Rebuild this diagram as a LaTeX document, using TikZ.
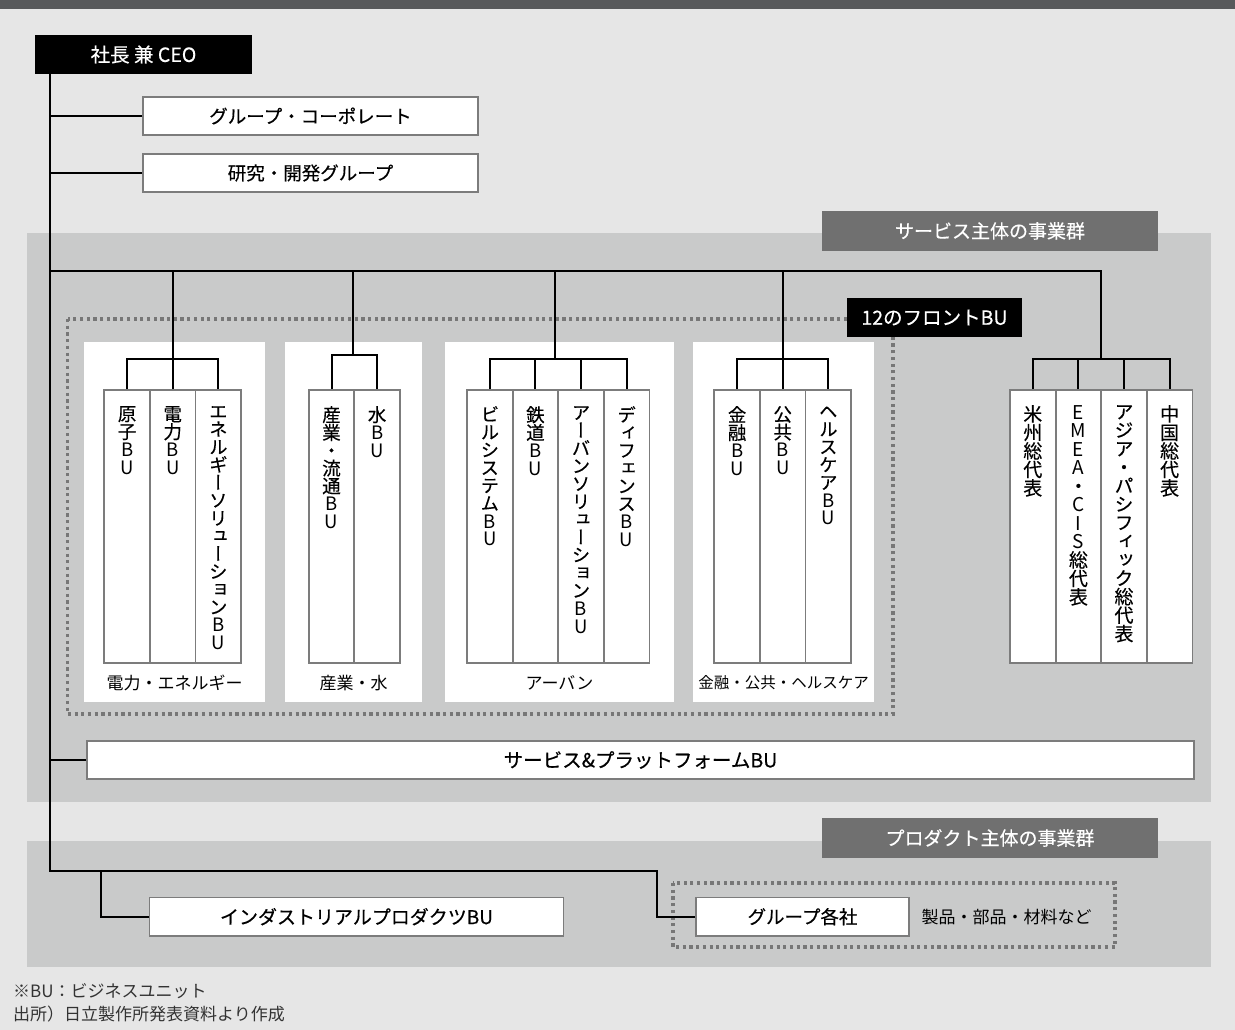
\documentclass[tikz,border=0pt]{standalone}
\usepackage{fontspec}
\setmainfont{Noto Sans CJK JP}
\newfontfamily\jpm[FakeBold=0.4]{Noto Sans CJK JP}
\newfontfamily\vjp[RawFeature={+vert},FakeBold=0.3]{Noto Sans CJK JP}
\newcommand\lb[1]{{\rmfamily #1}}
\definecolor{topbar}{HTML}{58595B}
\definecolor{bglight}{HTML}{E6E6E6}
\definecolor{bgmid}{HTML}{C9CACA}
\definecolor{bdr}{HTML}{7C7C7C}
\definecolor{lab}{HTML}{707070}
\definecolor{dotc}{HTML}{777777}
\definecolor{note}{HTML}{333333}
\lineskiplimit=-100pt
\tikzset{
  conn/.style={draw=black, line width=2pt, line join=miter},
  wbox/.style={draw=bdr, fill=white, line width=1.8pt, inner sep=0pt, minimum height=38.5pt, font=\jpm\fontsize{18.5}{20}\selectfont},
  blkbox/.style={fill=black, text=white, inner sep=0pt, minimum height=39pt, font=\jpm\fontsize{19.5}{20}\selectfont},
  tagbox/.style={fill=lab, text=white, inner sep=0pt, minimum width=336pt, minimum height=40pt, font=\jpm\fontsize{19}{20}\selectfont},
  colbox/.style={draw=bdr, fill=white, line width=1.8pt, minimum width=45.6pt, minimum height=273pt, inner sep=0pt},
  vtxt/.style={anchor=north, inner sep=0pt, align=center, font=\vjp\fontsize{18.5}{17.8}\selectfont},
  vtxtr/.style={anchor=north, inner sep=0pt, align=center, font=\vjp\fontsize{19}{18.5}\selectfont},
  plabel/.style={inner sep=0pt, font=\fontsize{17}{18}\selectfont},
  dots/.style={draw=dotc, line width=3.2pt, dash pattern=on 3.2pt off 3.5pt},
  notetxt/.style={anchor=west, inner sep=0pt, text=note, font=\fontsize{17}{18}\selectfont},
}
\begin{document}
\begin{tikzpicture}[x=1pt,y=-1pt]
\useasboundingbox (0,0) rectangle (1235,1030);
% backgrounds
\fill[bglight] (0,0) rectangle (1235,1030);
\fill[topbar] (0,0) rectangle (1235,9);
\fill[bgmid] (27,233) rectangle (1211,802);
\fill[bgmid] (27,841) rectangle (1211,967);
% panels
\fill[white] (84,342) rectangle (265,702);
\fill[white] (285,342) rectangle (422,702);
\fill[white] (445,342) rectangle (674,702);
\fill[white] (693,342) rectangle (874,702);
% dotted frames
\draw[dots] (67.5,319) rectangle (893,714);
\draw[dots] (673,883) rectangle (1115,947);

% tags
\node[tagbox] (tagsvc) at (990,231) {サービス主体の事業群};
\node[tagbox] (tagprd) at (990,838) {プロダクト主体の事業群};

% top boxes
\node[blkbox, minimum width=217pt] (ceo) at (143.5,54.5) {社長 兼 CEO};
\node[wbox, minimum width=335pt] (gc) at (310.5,116) {グループ・コーポレート};
\node[wbox, minimum width=335pt] (rd) at (310.5,173) {研究・開発グループ};
\node[wbox, minimum width=1107pt, font=\jpm\fontsize{19.5}{20}\selectfont] (sp) at (640.5,760) {サービス\&プラットフォームBU};
\node[wbox, minimum width=414pt, font=\jpm\fontsize{19}{20}\selectfont] (ip) at (356.5,916.7) {インダストリアルプロダクツBU};
\node[wbox, minimum width=213pt] (gk) at (802.5,916.7) {グループ各社};
\node[plabel] (seihin) at (1006.5,917) {製品・部品・材料など};

% trunk coordinates
\coordinate (t0) at (50,74);
\coordinate (tb) at (50,871);
\coordinate (gkturn) at (657,871);
\coordinate (ipturn) at (101,871);
\coordinate (bus0) at (50,271);
\coordinate (bus1) at (1101.2,271);
\coordinate (sb1) at (172.7,359);
\coordinate (sb2) at (353,355);
\coordinate (sb3) at (555,359);
\coordinate (sb4) at (782.7,359);
\coordinate (sb5) at (1101.2,359);

% columns
\node[colbox] (c1a) at (127.1,526.5) {};
\node[colbox] (c1b) at (172.7,526.5) {};
\node[colbox] (c1c) at (218.3,526.5) {};
\node[colbox] (c2a) at (331.5,526.5) {};
\node[colbox] (c2b) at (377.1,526.5) {};
\node[colbox] (c3a) at (489.8,526.5) {};
\node[colbox] (c3b) at (535.4,526.5) {};
\node[colbox] (c3c) at (581.0,526.5) {};
\node[colbox] (c3d) at (626.6,526.5) {};
\node[colbox] (c4a) at (737.1,526.5) {};
\node[colbox] (c4b) at (782.7,526.5) {};
\node[colbox] (c4c) at (828.3,526.5) {};
\node[colbox] (c5a) at (1032.8,526.5) {};
\node[colbox] (c5b) at (1078.4,526.5) {};
\node[colbox] (c5c) at (1124.0,526.5) {};
\node[colbox] (c5d) at (1169.6,526.5) {};

% vertical texts
\node[vtxt] (v1a) at (127.1,406) {原\\子\\\lb{B}\\\lb{U}};
\node[vtxt] (v1b) at (172.7,406) {電\\力\\\lb{B}\\\lb{U}};
\node[vtxt] (v1c) at (218.3,406) {エ\\ネ\\ル\\ギ\\ー\\ソ\\リ\\ュ\\ー\\シ\\ョ\\ン\\\lb{B}\\\lb{U}};
\node[vtxt] (v2a) at (331.5,406) {産\\業\\・\\流\\通\\\lb{B}\\\lb{U}};
\node[vtxt] (v2b) at (377.1,406) {水\\\lb{B}\\\lb{U}};
\node[vtxt] (v3a) at (489.8,406) {ビ\\ル\\シ\\ス\\テ\\ム\\\lb{B}\\\lb{U}};
\node[vtxt] (v3b) at (535.4,406) {鉄\\道\\\lb{B}\\\lb{U}};
\node[vtxt] (v3c) at (581.0,406) {ア\\ー\\バ\\ン\\ソ\\リ\\ュ\\ー\\シ\\ョ\\ン\\\lb{B}\\\lb{U}};
\node[vtxt] (v3d) at (626.6,406) {デ\\ィ\\フ\\ェ\\ン\\ス\\\lb{B}\\\lb{U}};
\node[vtxt] (v4a) at (737.1,406) {金\\融\\\lb{B}\\\lb{U}};
\node[vtxt] (v4b) at (782.7,406) {公\\共\\\lb{B}\\\lb{U}};
\node[vtxt] (v4c) at (828.3,406) {ヘ\\ル\\ス\\ケ\\ア\\\lb{B}\\\lb{U}};
\node[vtxtr] (v5a) at (1032.8,405) {米\\州\\総\\代\\表};
\node[vtxtr] (v5b) at (1078.4,405) {\lb{E}\\\lb{M}\\\lb{E}\\\lb{A}\\・\\\lb{C}\\\lb{I}\\\lb{S}\\総\\代\\表};
\node[vtxtr] (v5c) at (1124.0,405) {ア\\ジ\\ア\\・\\パ\\シ\\フ\\ィ\\ッ\\ク\\総\\代\\表};
\node[vtxtr] (v5d) at (1169.6,405) {中\\国\\総\\代\\表};

% panel labels
\node[plabel] (p1) at (174.5,683) {電力・エネルギー};
\node[plabel] (p2) at (353.5,683) {産業・水};
\node[plabel] (p3) at (559.5,683) {アーバン};
\node[plabel, font=\fontsize{15.5}{17}\selectfont] (p4) at (783.5,683) {金融・公共・ヘルスケア};

% 12 front BU tag
\node[blkbox, minimum width=175pt] (front) at (934.5,317.5) {12のフロントBU};

% connectors
\draw[conn] (t0) -- (tb) -- (gkturn) |- (gk.west);
\draw[conn] (ipturn) |- (ip.west);
\draw[conn] (gc.west) -- (gc.west -| t0);
\draw[conn] (rd.west) -- (rd.west -| t0);
\draw[conn] (sp.west) -- (sp.west -| t0);
\draw[conn] (bus0) -- (bus1) -- (sb5);
\draw[conn] (sb1 |- bus0) -- (sb1);
\draw[conn] (sb2 |- bus0) -- (sb2);
\draw[conn] (sb3 |- bus0) -- (sb3);
\draw[conn] (sb4 |- bus0) -- (sb4);
% group 1
\draw[conn] (c1a.north) |- (sb1) -| (c1c.north);
\draw[conn] (c1b.north) -- (c1b.north |- sb1);
% group 2
\draw[conn] (c2a.north) |- (sb2) -| (c2b.north);
% group 3
\draw[conn] (c3a.north) |- (sb3) -| (c3d.north);
\draw[conn] (c3b.north) -- (c3b.north |- sb3);
\draw[conn] (c3c.north) -- (c3c.north |- sb3);
% group 4
\draw[conn] (c4a.north) |- (sb4) -| (c4c.north);
\draw[conn] (c4b.north) -- (c4b.north |- sb4);
% regional
\draw[conn] (c5a.north) |- (sb5) -| (c5d.north);
\draw[conn] (c5b.north) -- (c5b.north |- sb5);
\draw[conn] (c5c.north) -- (c5c.north |- sb5);

% notes
\node[notetxt] (n1) at (13,991) {※BU：ビジネスユニット};
\node[notetxt] (n2) at (13,1014) {出所）日立製作所発表資料より作成};
\end{tikzpicture}
\end{document}
